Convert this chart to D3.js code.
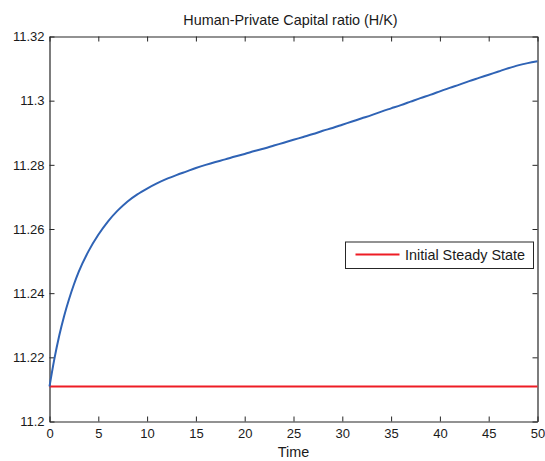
<!DOCTYPE html>
<html>
<head>
<meta charset="utf-8">
<script src="https://cdn.jsdelivr.net/npm/d3@7"></script>
<style>
  html, body { margin: 0; padding: 0; background: #fff; }
  svg { display: block; font-family: "Liberation Sans", Arial, sans-serif; }
</style>
</head>
<body>
<svg id="chart" width="545" height="461"></svg>
<script>
// Time path of the human-to-private capital ratio
const time = [0, 0.5, 1, 1.5, 2, 2.5, 3, 4, 5, 6, 7, 8, 9, 10, 11, 12, 13, 14, 15, 16, 17, 18, 19, 20,
  21, 22, 23, 24, 25, 26, 27, 28, 29, 30, 31, 32, 33, 34, 35, 36, 37, 38, 39, 40,
  41, 42, 43, 44, 45, 46, 47, 48, 49, 50];
const ratioHK = [11.2109, 11.2195, 11.2268, 11.2329, 11.2381, 11.2427, 11.2467, 11.2531, 11.2582,
  11.2624, 11.2658, 11.2686, 11.2708, 11.2726, 11.2742, 11.2756, 11.2768, 11.2779, 11.2790,
  11.2800, 11.2809, 11.2817, 11.2826, 11.2834, 11.2843, 11.2851, 11.2860, 11.2869, 11.2878,
  11.2887, 11.2896, 11.2906, 11.2915, 11.2925, 11.2935, 11.2945, 11.2955, 11.2966, 11.2976,
  11.2986, 11.2997, 11.3008, 11.3018, 11.3029, 11.3040, 11.3050, 11.3061, 11.3071, 11.3081,
  11.3091, 11.3101, 11.3110, 11.3117, 11.3123];
const steadyState = 11.2109;
const xTicks = [0, 5, 10, 15, 20, 25, 30, 35, 40, 45, 50];
const yTicks = [11.2, 11.22, 11.24, 11.26, 11.28, 11.3, 11.32];
const titleText = "Human-Private Capital ratio (H/K)";
const xLabel = "Time";
const legendLabel = "Initial Steady State";

const svg = d3.select("#chart");
const m = { left: 49.5, right: 537.5, top: 36.5, bottom: 421.5 };

const x = d3.scaleLinear().domain([0, 50]).range([m.left, m.right]);
const y = d3.scaleLinear().domain([11.2, 11.32]).range([m.bottom, m.top]);

const axisColor = "#262626";
const textColor = "#1a1a1a";
const labelFont = "14.4px";
const tickLen = 5;

// box-style axes with inward ticks on all four sides
const bottomAxis = svg.append("g").attr("transform", `translate(0,${m.bottom})`)
  .call(d3.axisBottom(x).tickValues(xTicks).tickSizeInner(-tickLen).tickSizeOuter(0).tickPadding(7).tickFormat(d3.format("d")));
const topAxis = svg.append("g").attr("transform", `translate(0,${m.top})`)
  .call(d3.axisTop(x).tickValues(xTicks).tickSizeInner(-tickLen).tickSizeOuter(0).tickFormat(""));
const leftAxis = svg.append("g").attr("transform", `translate(${m.left},0)`)
  .call(d3.axisLeft(y).tickValues(yTicks).tickSizeInner(-tickLen).tickSizeOuter(0).tickPadding(5).tickFormat(d => String(+d.toFixed(2))));
const rightAxis = svg.append("g").attr("transform", `translate(${m.right},0)`)
  .call(d3.axisRight(y).tickValues(yTicks).tickSizeInner(-tickLen).tickSizeOuter(0).tickFormat(""));

[bottomAxis, topAxis, leftAxis, rightAxis].forEach(g => {
  g.select(".domain").attr("stroke", axisColor).attr("stroke-width", 1.2);
  g.selectAll(".tick line").attr("stroke", axisColor).attr("stroke-width", 1);
  g.selectAll(".tick text").attr("fill", textColor).style("font-size", "13px")
    .style("font-family", "'Liberation Sans', Arial, sans-serif");
});

// steady-state reference line
svg.append("line")
  .attr("x1", x(0)).attr("x2", x(50))
  .attr("y1", y(steadyState)).attr("y2", y(steadyState))
  .attr("stroke", "#ee1c25").attr("stroke-width", 2);

// transition path
const line = d3.line().x((d, i) => x(time[i])).y(d => y(d)).curve(d3.curveMonotoneX);
svg.append("path")
  .datum(ratioHK)
  .attr("d", line)
  .attr("fill", "none")
  .attr("stroke", "#2f63b5")
  .attr("stroke-width", 2)
  .attr("stroke-linejoin", "round");

// title and axis label
svg.append("text").attr("x", 290.5).attr("y", 25)
  .attr("text-anchor", "middle").style("font-size", labelFont).attr("fill", textColor)
  .text(titleText);
svg.append("text").attr("x", x(25)).attr("y", 457)
  .attr("text-anchor", "middle").style("font-size", labelFont).attr("fill", textColor)
  .text(xLabel);

// legend
const lg = svg.append("g").attr("transform", "translate(345.5,242)");
lg.append("rect").attr("width", 188).attr("height", 26.5)
  .attr("fill", "#fff").attr("stroke", axisColor).attr("stroke-width", 1);
lg.append("line").attr("x1", 10).attr("x2", 54).attr("y1", 12.5).attr("y2", 12.5)
  .attr("stroke", "#ee1c25").attr("stroke-width", 2);
lg.append("text").attr("x", 59.5).attr("y", 18).style("font-size", labelFont).attr("fill", textColor)
  .text(legendLabel);
</script>
</body>
</html>
